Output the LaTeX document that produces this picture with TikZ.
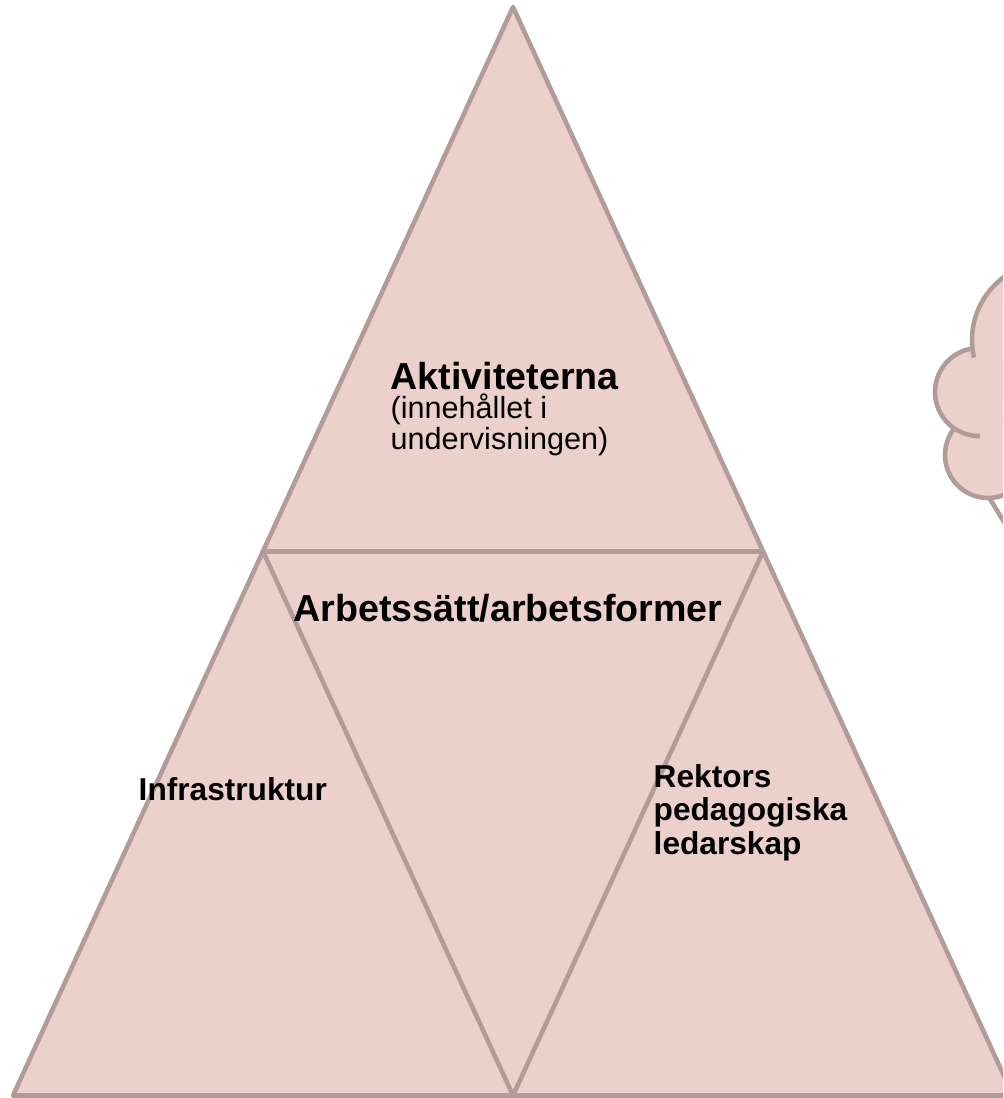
\documentclass[tikz,border=0pt]{standalone}
\usepackage{fontspec}
\setmainfont{Liberation Sans}
\definecolor{pinkfill}{RGB}{236,208,203}
\definecolor{edge}{RGB}{178,156,153}
\begin{document}
\begin{tikzpicture}[x=0.01cm,y=-0.01cm,
  shape line/.style={draw=edge,line width=1.3pt,line join=round},
  title/.style={inner sep=0pt,anchor=base west,font=\bfseries\fontsize{10.7}{11}\selectfont},
  sub/.style={inner sep=0pt,anchor=base west,align=left,font=\fontsize{8.7}{8.9}\selectfont},
  label/.style={inner sep=0pt,anchor=base west,align=left,font=\bfseries\fontsize{9}{9.4}\selectfont}]
\useasboundingbox (0,0) rectangle (1003,1098);
\clip (0,0) rectangle (1003,1098);
% corner points
\coordinate (apex) at (513,7);
\coordinate (bl) at (13,1095.5);
\coordinate (br) at (1013,1095.5);
\coordinate (ml) at (263,551.5);
\coordinate (mr) at (763,551.5);
\coordinate (bm) at (513,1095.5);
% triangle
\fill[pinkfill] (apex) -- (bl) -- (br) -- cycle;
\draw[shape line] (apex) -- (bl) -- (br) -- cycle;
\draw[shape line] (ml) -- (mr);
\draw[shape line] (ml) -- (bm) -- (mr);
% cloud (partly outside the page)
\fill[pinkfill] (1050,340) circle[radius=78];
\fill[pinkfill] (979,392) circle[radius=44];
\fill[pinkfill] (988,455) circle[radius=43];
\fill[pinkfill] (1003,285) -- (980,350) -- (975,420) -- (985,470) -- (1003,490) -- cycle;
\draw[shape line,line cap=butt] plot[domain=167:240,samples=50] ({1050+78*cos(\x)},{340+78*sin(\x)});
\draw[shape line,line cap=butt] plot[domain=89:262,samples=60] ({979+44*cos(\x)},{392+44*sin(\x)});
\draw[shape line,line cap=butt] plot[domain=50:220,samples=60] ({988+43*cos(\x)},{455+43*sin(\x)});
\coordinate (tailA) at (990,499);
\coordinate (tailB) at (1012,535);
\draw[shape line] (tailA) -- (tailB);
% texts
\node[title] (akt) at (390,390) {Aktiviteterna};
\node[sub] (inneh) at (390,450) {(innehållet i\\undervisningen)};
\node[title,anchor=base] (arb) at (508,621) {Arbetssätt/arbetsformer};
\node[label] (infra) at (138,800) {Infrastruktur};
\node[label] (rekt) at (653,854) {Rektors\\pedagogiska\\ledarskap};
\end{tikzpicture}
\end{document}
